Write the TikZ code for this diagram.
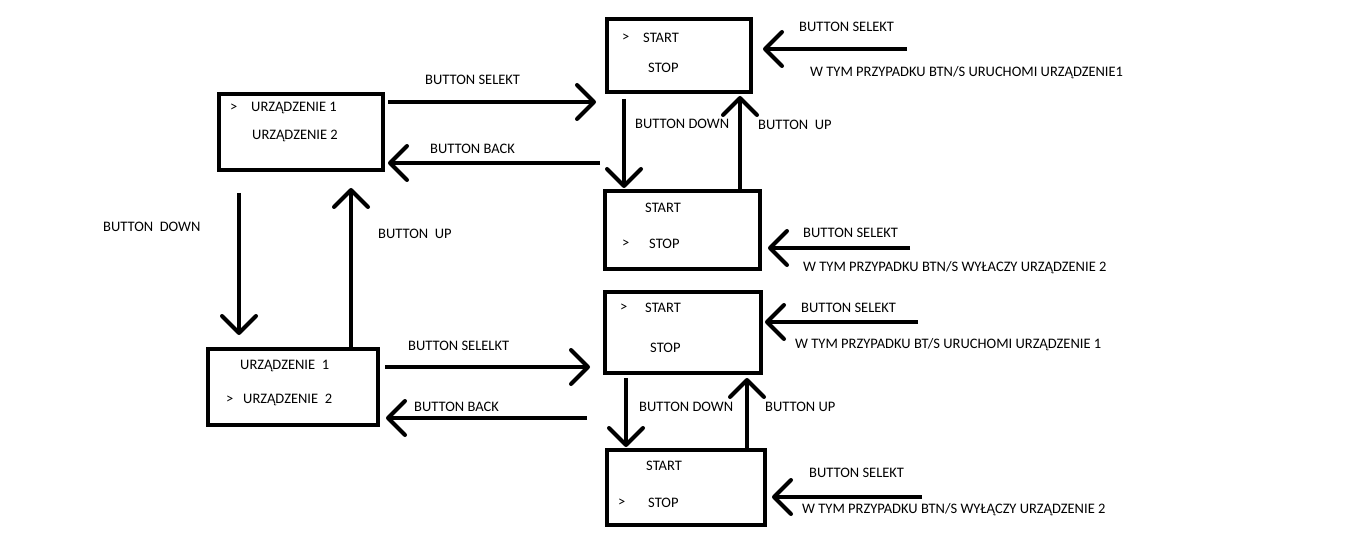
\documentclass[tikz,border=0pt]{standalone}
\usepackage{fontspec}
\setmainfont{Carlito}
\usetikzlibrary{arrows.meta}

\begin{document}
\begin{tikzpicture}[x=1pt,y=-1pt,font=\fontsize{14.5}{17}\selectfont]
        \useasboundingbox (0,0) rectangle (1360,556);
        \begin{scope}[every node/.style={draw,line width=4pt,outer sep=0pt,inner sep=0pt}]
            \node[minimum width=164pt,minimum height=76pt] (menu1)  at (301,132) {};
            \node[minimum width=170pt,minimum height=76pt] (menu2)  at (293,387) {};
            \node[minimum width=144pt,minimum height=73pt] (start1) at (679,55.5) {};
            \node[minimum width=155pt,minimum height=78pt] (stop1)  at (682.5,230) {};
            \node[minimum width=156pt,minimum height=81pt] (start2) at (683,332.5) {};
            \node[minimum width=158pt,minimum height=75pt] (stop2)  at (686,487.5) {};
        \end{scope}
        \begin{scope}[every node/.style={anchor=west,inner sep=0pt}]
            \node (cur1) at (230,108) {>};
            \node (dev11) at (251,108) {URZĄDZENIE 1};
            \node (dev12) at (252,136) {URZĄDZENIE 2};
            \node (dev21) at (240,366) {URZĄDZENIE\ \ 1};
            \node (cur2) at (226,400) {>};
            \node (dev22) at (243,400) {URZĄDZENIE\ \ 2};
            \node (cur3) at (622,38) {>};
            \node (on1) at (643,38) {START};
            \node (off1) at (648,68) {STOP};
            \node (on2) at (645,208) {START};
            \node (cur4) at (622,244) {>};
            \node (off2) at (649,244) {STOP};
            \node (cur5) at (620,308) {>};
            \node (on3) at (645,308) {START};
            \node (off3) at (650,348) {STOP};
            \node (on4) at (646,466) {START};
            \node (cur6) at (618,503) {>};
            \node (off4) at (648,503) {STOP};
            % labels
            \node (lsel1) at (425,80) {BUTTON SELEKT};
            \node (lback1) at (430,149) {BUTTON BACK};
            \node (ldown1) at (103,227) {BUTTON\ \ DOWN};
            \node (lup1) at (378,234) {BUTTON\ \ UP};
            \node (lsel2) at (408,346) {BUTTON SELELKT};
            \node (lback2) at (414,407) {BUTTON BACK};
            \node (ldown2) at (635,124) {BUTTON DOWN};
            \node (lup2) at (758,125) {BUTTON\ \ UP};
            \node (ldown3) at (639,407) {BUTTON DOWN};
            \node (lup3) at (765,407) {BUTTON UP};
            \node (lsel3) at (799,27) {BUTTON SELEKT};
            \node (note1) at (810,73) {W TYM PRZYPADKU BTN/S URUCHOMI URZĄDZENIE1};
            \node (lsel4) at (803,233) {BUTTON SELEKT};
            \node (note2) at (803,268) {W TYM PRZYPADKU BTN/S WYŁACZY URZĄDZENIE 2};
            \node (lsel5) at (801,308) {BUTTON SELEKT};
            \node (note3) at (795,345) {W TYM PRZYPADKU BT/S URUCHOMI URZĄDZENIE 1};
            \node (lsel6) at (809,473) {BUTTON SELEKT};
            \node (note4) at (802,510) {W TYM PRZYPADKU BTN/S WYŁĄCZY URZĄDZENIE 2};
        \end{scope}
        \coordinate (btn1) at (907,49);
        \coordinate (btn2) at (910,248);
        \coordinate (btn3) at (918,322);
        \coordinate (btn4) at (922,497);
        \begin{scope}[every edge/.style={draw,line width=4pt,-{Straight Barb[length=17pt,width=34pt,round]}}]
            \path
                ([xshift=5pt,yshift=30pt]menu1.east) edge ([xshift=-11pt,yshift=-46.5pt]start1.west)
                ([xshift=-7pt,yshift=-107.5pt]start1.west) edge ([xshift=5pt,yshift=-31pt]menu1.east)
                ([xshift=-62pt,yshift=-23pt]menu1.south) edge ([xshift=-54pt,yshift=14pt]menu2.north)
                ([xshift=58pt,yshift=2pt]menu2.north) edge ([xshift=50pt,yshift=-18pt]menu1.south)
                ([xshift=7pt,yshift=20pt]menu2.east) edge ([xshift=-15pt,yshift=-34.5pt]start2.west)
                ([xshift=-18pt,yshift=-85.5pt]start2.west) edge ([xshift=8pt,yshift=-31pt]menu2.east)
                ([xshift=-55pt,yshift=-7pt]start1.south) edge ([xshift=-58.5pt,yshift=3pt]stop1.north)
                ([xshift=57.5pt]stop1.north) edge ([xshift=61pt,yshift=-4pt]start1.south)
                ([xshift=-57pt,yshift=-5pt]start2.south) edge ([xshift=-60pt,yshift=3pt]stop2.north)
                ([xshift=61pt]stop2.north) edge ([xshift=64pt,yshift=-5pt]start2.south)
                (btn1) edge ([xshift=12pt,yshift=6.5pt]start1.east)
                (btn2) edge ([xshift=8pt,yshift=-18pt]stop1.east)
                (btn3) edge ([xshift=4pt,yshift=10.5pt]start2.east)
                (btn4) edge ([xshift=7pt,yshift=-9.5pt]stop2.east);
        \end{scope}
    \end{tikzpicture}
\end{document}
